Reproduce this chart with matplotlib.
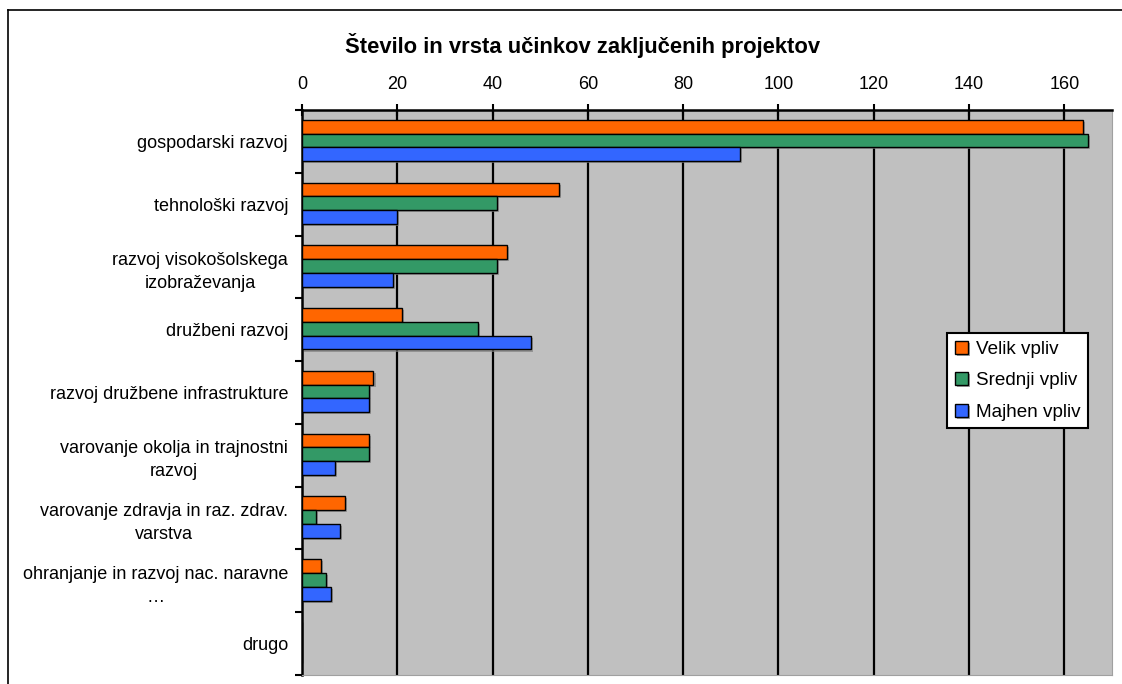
import numpy as np
import matplotlib.pyplot as plt
import matplotlib.patheffects as pe
from matplotlib.lines import Line2D

plt.rcParams['font.family'] = ['Liberation Sans', 'DejaVu Sans']

categories = ["gospodarski razvoj", "tehnološki razvoj",
              "razvoj visokošolskega\nizobraževanja", "družbeni razvoj",
              "razvoj družbene infrastrukture",
              "varovanje okolja in trajnostni\nrazvoj",
              "varovanje zdravja in raz. zdrav.\nvarstva",
              "ohranjanje in razvoj nac. naravne\n…", "drugo"]
velik = [164, 54, 43, 21, 15, 14, 9, 4, 0]
srednji = [165, 41, 41, 37, 14, 14, 3, 5, 0]
majhen = [92, 20, 19, 48, 14, 7, 8, 6, 0]
series_names = ["Velik vpliv", "Srednji vpliv", "Majhen vpliv"]
colors = ["#FF6600", "#339966", "#3366FF"]
xticks = [0, 20, 40, 60, 80, 100, 120, 140, 160]

W, H = 1122, 684
fig = plt.figure(figsize=(W / 100, H / 100), dpi=100)
ax = fig.add_axes([302 / W, 1 - 675 / H, (1112 - 302) / W, (675 - 110) / H])
ax.set_facecolor("#C0C0C0")

y = np.arange(len(categories))
h = 0.22
shadow = [pe.SimplePatchShadow(offset=(1.5, -1.5), shadow_rgbFace="#808080", alpha=0.7), pe.Normal()]
for k, (vals, c) in enumerate(zip([velik, srednji, majhen], colors)):
    bars = ax.barh(y + (k - 1) * h - 0.015, vals, height=h, color=c,
                   edgecolor="black", linewidth=1.0, label=series_names[k], zorder=3)
    for b in bars:
        if b.get_width() > 0:
            b.set_path_effects(shadow)

ax.set_xlim(0, 170)
ax.set_ylim(len(categories) - 0.5, -0.5)

ax.xaxis.tick_top()
ax.set_xticks(xticks)
ax.tick_params(axis="x", direction="inout", length=9, width=1.5, pad=8, labelsize=13)
for xv in xticks[1:]:
    ax.axvline(xv, color="black", lw=1.6, zorder=1)

ax.set_yticks(y)
ax.set_yticklabels(categories, fontsize=13, multialignment="center", linespacing=1.45)
ax.set_yticks(np.arange(len(categories) + 1) - 0.5, minor=True)
ax.tick_params(axis="y", which="major", length=0, pad=10)
ax.tick_params(axis="y", which="minor", direction="out", length=5, width=1.5)

for s in ["left", "top"]:
    ax.spines[s].set_linewidth(1.8)
    ax.spines[s].set_color("black")
for s in ["right", "bottom"]:
    ax.spines[s].set_color("#A0A0A0")
    ax.spines[s].set_linewidth(0.8)

fig.text(583 / W, 1 - 45 / H, "Število in vrsta učinkov zaključenih projektov",
         ha="center", va="center", fontsize=15.8, fontweight="bold")

leg = ax.legend(loc="upper left", bbox_to_anchor=(947 / W, 1 - 333 / H),
                bbox_transform=fig.transFigure, borderaxespad=0, fontsize=13.6,
                fancybox=False, framealpha=1, edgecolor="black",
                handlelength=0.7, handleheight=0.7, handletextpad=0.45,
                labelspacing=0.76, borderpad=0.4)
leg.get_frame().set_linewidth(1.5)

fig.add_artist(Line2D([8 / W, 1], [1 - 10 / H, 1 - 10 / H], color="black", lw=1.2,
                      transform=fig.transFigure))
fig.add_artist(Line2D([8 / W, 8 / W], [0, 1 - 10 / H], color="black", lw=1.2,
                      transform=fig.transFigure))

fig.savefig("out.png", dpi=100)
